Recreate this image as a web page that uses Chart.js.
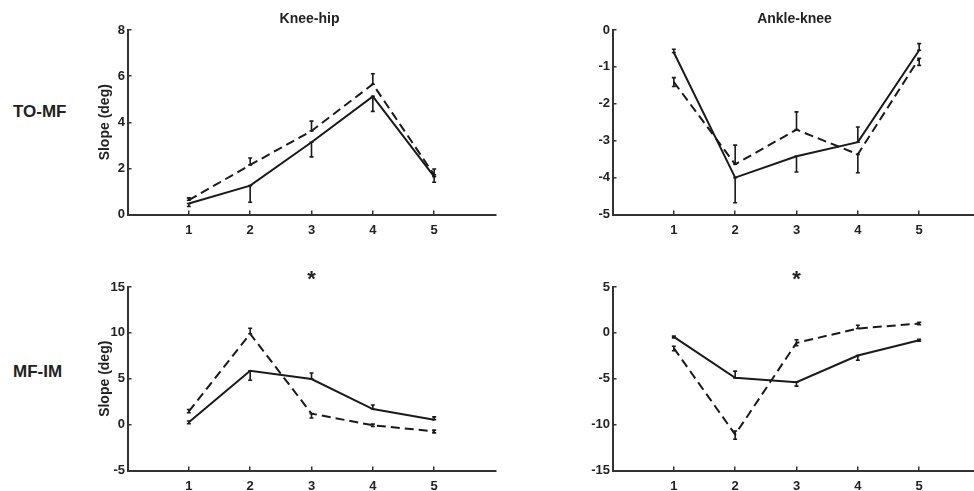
<!DOCTYPE html>
<html>
<head>
<meta charset="utf-8">
<script src="https://cdn.jsdelivr.net/npm/chart.js@4.4.0/dist/chart.umd.min.js"></script>
<style>
  html, body { margin: 0; padding: 0; background: #fff; overflow: hidden; }
  body { width: 974px; height: 491px; position: relative; font-family: 'Liberation Sans', Arial, sans-serif; }
  canvas { position: absolute; }
  .row { position: absolute; left: 13px; font-weight: bold; font-size: 17px; line-height: 20px; color: #222; }
</style>
</head>
<body>
<div class="row" style="top:102px">TO-MF</div>
<div class="row" style="top:362px">MF-IM</div>
<canvas id="kneeTop" width="500" height="245" style="left:0;top:0"></canvas>
<canvas id="ankleTop" width="500" height="245" style="left:485px;top:0"></canvas>
<canvas id="kneeBottom" width="500" height="246" style="left:0;top:245px"></canvas>
<canvas id="ankleBottom" width="500" height="246" style="left:485px;top:245px"></canvas>
<script>
// --- DATA ---
const stages = [1, 2, 3, 4, 5];

// Knee-hip, TO-MF
const kneeHipToMfSolid = [0.48, 1.25, 3.13, 5.12, 1.64];
const kneeHipToMfSolidErr = [[0.35, 0.48], [0.53, 1.25], [2.5, 3.13], [4.47, 5.12], [1.4, 1.64]];
const kneeHipToMfDashed = [0.62, 2.15, 3.62, 5.65, 1.72];
const kneeHipToMfDashedErr = [[0.62, 0.72], [2.15, 2.45], [3.62, 4.05], [5.65, 6.1], [1.72, 1.97]];
const kneeHipToMfTicks = [0, 2, 4, 6, 8];

// Ankle-knee, TO-MF
const ankleKneeToMfSolid = [-0.61, -4.0, -3.42, -3.04, -0.55];
const ankleKneeToMfSolidErr = [[-0.61, -0.52], [-4.68, -4.0], [-3.85, -3.42], [-3.04, -2.63], [-0.55, -0.37]];
const ankleKneeToMfDashed = [-1.41, -3.64, -2.7, -3.37, -0.77];
const ankleKneeToMfDashedErr = [[-1.53, -1.29], [-3.64, -3.12], [-2.7, -2.22], [-3.87, -3.37], [-0.96, -0.77]];
const ankleKneeToMfTicks = [-5, -4, -3, -2, -1, 0];

// Knee-hip, MF-IM
const kneeHipMfImSolid = [0.25, 5.88, 4.97, 1.7, 0.54];
const kneeHipMfImSolidErr = [[0.1, 0.4], [4.83, 5.88], [4.97, 5.63], [1.7, 2.14], [0.54, 0.85]];
const kneeHipMfImDashed = [1.45, 9.9, 1.2, -0.07, -0.73];
const kneeHipMfImDashedErr = [[1.3, 1.65], [9.9, 10.5], [0.73, 1.2], [-0.2, 0.05], [-0.9, -0.6]];
const kneeHipMfImTicks = [-5, 0, 5, 10, 15];

// Ankle-knee, MF-IM
const ankleKneeMfImSolid = [-0.44, -4.9, -5.37, -2.47, -0.8];
const ankleKneeMfImSolidErr = [[-0.55, -0.35], [-4.9, -4.17], [-5.8, -5.37], [-2.98, -2.47], [-0.9, -0.7]];
const ankleKneeMfImDashed = [-1.67, -11.07, -1.09, 0.47, 1.02];
const ankleKneeMfImDashedErr = [[-1.95, -1.45], [-11.6, -10.7], [-1.4, -0.75], [0.47, 0.83], [0.9, 1.15]];
const ankleKneeMfImTicks = [-15, -10, -5, 0, 5];

const INK = '#1a1a1a';
const AXIS = '#333';
const FONT = "'Liberation Sans', Arial, sans-serif";

// error bars, panel title and significance star
const panelMarks = {
    id: 'panelMarks',
    afterDatasetsDraw(chart, args, opts) {
        const ctx = chart.ctx;
        const xs = chart.scales.x, ys = chart.scales.y, area = chart.chartArea;
        ctx.save();
        ctx.setLineDash([]);
        ctx.strokeStyle = INK;
        ctx.lineWidth = 1.6;
        chart.data.datasets.forEach(ds => {
            ds.errBars.forEach((r, i) => {
                const px = xs.getPixelForValue(ds.data[i].x);
                const y1 = ys.getPixelForValue(r[0]);
                const y2 = ys.getPixelForValue(r[1]);
                ctx.beginPath();
                ctx.moveTo(px, y1); ctx.lineTo(px, y2);
                ctx.moveTo(px - 2, y1); ctx.lineTo(px + 2, y1);
                ctx.moveTo(px - 2, y2); ctx.lineTo(px + 2, y2);
                ctx.stroke();
            });
        });
        ctx.fillStyle = '#222';
        ctx.textAlign = 'center';
        if (opts.title) {
            ctx.font = 'bold 14px ' + FONT;
            ctx.textBaseline = 'middle';
            ctx.fillText(opts.title, (area.left + area.right) / 2 - 2, 19);
        }
        if (opts.star) {
            ctx.font = 'bold 22px ' + FONT;
            ctx.textBaseline = 'alphabetic';
            ctx.fillText('*', xs.getPixelForValue(opts.star), area.top - 1);
        }
        ctx.restore();
    }
};

function makePanel(id, cfg) {
    const toPts = vals => stages.map((s, i) => ({ x: s, y: vals[i] }));
    const tickFont = { family: FONT, size: 13, weight: 'bold' };
    new Chart(document.getElementById(id), {
        type: 'line',
        data: {
            datasets: [
                { data: toPts(cfg.solid), errBars: cfg.solidErr, borderColor: INK, borderWidth: 2, pointRadius: 0, tension: 0 },
                { data: toPts(cfg.dashed), errBars: cfg.dashedErr, borderColor: INK, borderWidth: 2, borderDash: [9, 5], pointRadius: 0, tension: 0 }
            ]
        },
        options: {
            responsive: false,
            animation: false,
            devicePixelRatio: 1,
            layout: { padding: { left: 95, top: cfg.top, right: 4.5, bottom: 0 } },
            plugins: {
                legend: { display: false },
                tooltip: { enabled: false },
                panelMarks: { title: cfg.title, star: cfg.star }
            },
            scales: {
                x: {
                    type: 'linear', min: 0, max: 6,
                    afterBuildTicks: s => { s.ticks = stages.map(v => ({ value: v })); },
                    afterFit: s => { s.height = cfg.axisH; },
                    border: { display: true, color: AXIS, width: 2 },
                    grid: { drawOnChartArea: false, drawTicks: true, tickLength: -4, color: AXIS, lineWidth: 1.5 },
                    ticks: { color: '#222', font: tickFont, padding: 12, maxRotation: 0 }
                },
                y: {
                    min: cfg.ticks[0], max: cfg.ticks[cfg.ticks.length - 1],
                    afterBuildTicks: s => { s.ticks = cfg.ticks.map(v => ({ value: v })); },
                    afterFit: s => { s.width = 32.5; },
                    border: { display: true, color: AXIS, width: 2 },
                    grid: { drawOnChartArea: false, drawTicks: true, tickLength: -4, color: AXIS, lineWidth: 1.5 },
                    ticks: { color: '#222', font: tickFont, padding: 6.5 },
                    title: {
                        display: cfg.yTitle, text: 'Slope (deg)', color: '#222',
                        font: { family: FONT, size: 14, weight: 'bold' }, padding: { top: 2, bottom: 0 }
                    }
                }
            }
        },
        plugins: [panelMarks]
    });
}

makePanel('kneeTop', {
    solid: kneeHipToMfSolid, solidErr: kneeHipToMfSolidErr,
    dashed: kneeHipToMfDashed, dashedErr: kneeHipToMfDashedErr,
    ticks: kneeHipToMfTicks, title: 'Knee-hip', yTitle: true, top: 30, axisH: 30.5
});
makePanel('ankleTop', {
    solid: ankleKneeToMfSolid, solidErr: ankleKneeToMfSolidErr,
    dashed: ankleKneeToMfDashed, dashedErr: ankleKneeToMfDashedErr,
    ticks: ankleKneeToMfTicks, title: 'Ankle-knee', yTitle: false, top: 30, axisH: 30.5
});
makePanel('kneeBottom', {
    solid: kneeHipMfImSolid, solidErr: kneeHipMfImSolidErr,
    dashed: kneeHipMfImDashed, dashedErr: kneeHipMfImDashedErr,
    ticks: kneeHipMfImTicks, star: 3, yTitle: true, top: 42, axisH: 20.5
});
makePanel('ankleBottom', {
    solid: ankleKneeMfImSolid, solidErr: ankleKneeMfImSolidErr,
    dashed: ankleKneeMfImDashed, dashedErr: ankleKneeMfImDashedErr,
    ticks: ankleKneeMfImTicks, star: 3, yTitle: false, top: 42, axisH: 20.5
});
</script>
</body>
</html>
